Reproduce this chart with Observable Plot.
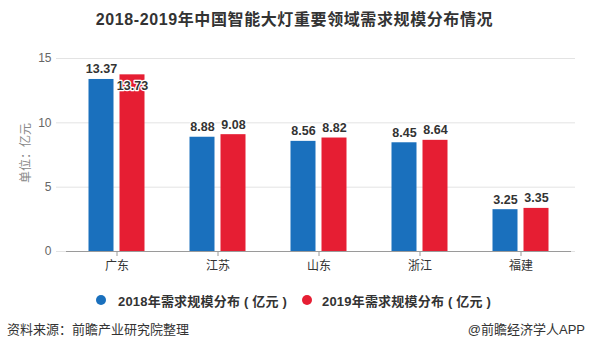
<!DOCTYPE html>
<html><head><meta charset="utf-8">
<script src="https://cdn.jsdelivr.net/npm/d3@7"></script>
<script src="https://cdn.jsdelivr.net/npm/@observablehq/plot@0.6"></script>
<style>
body{margin:0;background:#fff;font-family:"Liberation Sans","Noto Sans CJK SC",sans-serif;}
#wrap{width:589px;height:353px;position:relative;overflow:hidden;}
#title{position:absolute;top:6px;left:0;width:589px;text-align:center;font-size:16px;letter-spacing:0.6px;font-weight:bold;color:#333;}
#chart{position:absolute;top:40px;left:0;}
#ylab{position:absolute;left:24px;top:153px;transform:translate(-50%,-50%) rotate(-90deg);font-size:12px;color:#888;white-space:nowrap;}
#legend{position:absolute;top:291px;left:0;width:589px;font-size:13px;letter-spacing:0.2px;font-weight:bold;color:#333;}
.li{position:absolute;top:0;white-space:nowrap;}
.dot{position:absolute;width:10px;height:10px;border-radius:50%;top:4px;}
#src{position:absolute;top:319px;left:7px;font-size:13px;color:#333;}
#app{position:absolute;top:319px;right:4px;font-size:13px;color:#333;}
</style></head>
<body><div id="wrap">
<div id="title">2018-2019年中国智能大灯重要领域需求规模分布情况</div>
<div id="chart"></div>
<div id="ylab">单位：亿元</div>
<div id="legend"></div>
<div id="src">资料来源：前瞻产业研究院整理</div>
<div id="app">@前瞻经济学人APP</div>
</div>
<script>
const categories = ["广东","江苏","山东","浙江","福建"];
const values2018 = [13.37, 8.88, 8.56, 8.45, 3.25];
const values2019 = [13.73, 9.08, 8.82, 8.64, 3.35];
const seriesNames = ["2018年需求规模分布 ( 亿元 )","2019年需求规模分布 ( 亿元 )"];
const colors = ["#1a70bd","#e61e33"];
const yTicks = [0,5,10,15];

const d18 = categories.map((c,i)=>({cat:c, v:values2018[i]}));
const d19 = categories.map((c,i)=>({cat:c, v:values2019[i]}));

const labelOpts = {fontSize:12.5, fontWeight:"bold", fill:"#333", stroke:"white", strokeWidth:2.5, paintOrder:"stroke", lineAnchor:"bottom"};

const chart = Plot.plot({
  width:589, height:245,
  marginLeft:66, marginRight:18, marginTop:18, marginBottom:34,
  style:{fontFamily:'"Liberation Sans","Noto Sans CJK SC",sans-serif', fontSize:"12px", color:"#333", background:"transparent"},
  x:{domain:categories, padding:0},
  y:{domain:[0,15]},
  marks:[
    Plot.ruleY(yTicks, {stroke:"#e3e3e3", insetLeft:-10, insetRight:-4}),
    Plot.barY(d18, {x:"cat", y:"v", fill:colors[0], dx:-15.5, insetLeft:38, insetRight:38}),
    Plot.barY(d19, {x:"cat", y:"v", fill:colors[1], dx:15.5, insetLeft:38, insetRight:38}),
    Plot.ruleY([0], {stroke:"#9a9a9a"}),
    Plot.axisY({ticks:yTicks, tickSize:0, tickPadding:15, fontSize:12, color:"#666", label:null}),
    Plot.axisX({tickSize:5, tickPadding:5, fontSize:12, color:"#333", stroke:"#9a9a9a", label:null}),
    Plot.text(d18, {x:"cat", y:"v", text:d=>d.v.toFixed(2), dx:-15.5, dy:-6, ...labelOpts, className:"lab18"}),
    Plot.text(d19, {x:"cat", y:"v", text:d=>d.v.toFixed(2), dx:15.5, dy:-6, ...labelOpts, className:"lab19"})
  ]
});
document.getElementById("chart").appendChild(chart);

// collision avoidance: move a 2019 label into its bar when it collides with the 2018 label
const l18 = chart.querySelectorAll(".lab18 text");
const l19 = chart.querySelectorAll(".lab19 text");
l19.forEach((t,i)=>{
  const a = l18[i].getBoundingClientRect(), b = t.getBoundingClientRect();
  const pad = 2;
  const overlap = a.left < b.right + pad && b.left < a.right + pad && a.top < b.bottom && b.top < a.bottom;
  if (overlap) {
    const tr = t.getAttribute("transform") || "";
    t.setAttribute("transform", tr + " translate(0,21)");
  }
});

const lg = document.getElementById("legend");
const dotX = [96, 302], textX = [118, 322];
seriesNames.forEach((n,i)=>{
  const dot = document.createElement("div"); dot.className="dot";
  dot.style.left = dotX[i]+"px"; dot.style.background = colors[i];
  lg.appendChild(dot);
  const d = document.createElement("div"); d.className="li"; d.style.left = textX[i]+"px";
  d.textContent = n;
  lg.appendChild(d);
});
</script>
</body></html>
